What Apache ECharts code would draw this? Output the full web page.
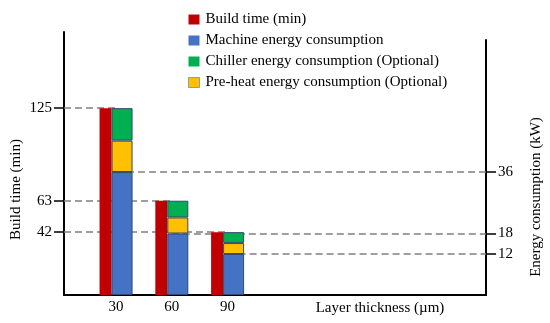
<!DOCTYPE html>
<html><head><meta charset="utf-8">
<script src="https://cdn.jsdelivr.net/npm/echarts@6.0.0/dist/echarts.min.js"></script>
<style>html,body{margin:0;padding:0;background:#fff}#c{width:550px;height:323px}</style>
</head><body><div id="c"></div>
<script>
// ---- data ----
const thickness = [30, 60, 90];              // layer thickness (µm)
const buildTime = [125, 63, 42];             // build time (min)
const machineEnergy = [36, 18, 12];          // kW
const preheatEnergy = [9.2, 4.7, 3.2];       // kW (optional)
const chillerEnergy = [9.5, 4.9, 3.2];       // kW (optional)
const xTickValues = [30, 60, 90];
const leftTickValues = [125, 63, 42];
const rightTickValues = [36, 18, 12];
const seriesNames = ['Build time (min)', 'Machine energy consumption',
  'Chiller energy consumption (Optional)', 'Pre-heat energy consumption (Optional)'];

// ---- layout / style ----
const X_MIN = 2, X_MAX = 229, LEFT_MAX = 176, RIGHT_MAX = 77;
const FONT = 'Liberation Serif';
const txt = {fontFamily: FONT, fontSize: 15, color: '#000'};
// value first, thickness second; encode maps them (so stacking happens on the value dimension)
const pairVX = (ys, xs) => ys.map((y, i) => [y, xs[i]]);
const enc = {x: 1, y: 0};
const dash = {color: '#808080', width: 1.5, type: [7, 4]};
const segBorder = {borderColor: '#34496b', borderWidth: 1};

const chart = echarts.init(document.getElementById('c'), null, {renderer: 'canvas'});
chart.setOption({
  animation: false,
  backgroundColor: '#fff',
  legend: {
    orient: 'vertical', left: 188, top: 12, padding: 0, itemWidth: 11, itemHeight: 10, itemGap: 6,
    icon: 'rect', selectedMode: false,
    textStyle: Object.assign({}, txt, {padding: [0, 0, 0, 1]}),
    itemStyle: {borderWidth: 0},
    data: [
      {name: seriesNames[0]},
      {name: seriesNames[1]},
      {name: seriesNames[2]},
      {name: seriesNames[3], itemStyle: {borderColor: '#8c9bb0', borderWidth: 1}}
    ]
  },
  grid: [
    {left: 64, right: 64, top: 32, bottom: 28, outerBoundsMode: 'none', containLabel: false},
    {left: 64, right: 64, top: 40, bottom: 28, outerBoundsMode: 'none', containLabel: false}
  ],
  xAxis: [
    {gridIndex: 0, type: 'value', min: X_MIN, max: X_MAX,
     axisLine: {show: true, onZero: false, lineStyle: {color: '#000', width: 2}},
     axisTick: {show: false}, splitLine: {show: false},
     axisLabel: Object.assign({customValues: xTickValues, margin: 5}, txt),
     name: 'Layer thickness (µm)', nameLocation: 'middle', nameGap: 6, nameMoveOverlap: false,
     nameTextStyle: Object.assign({padding: [0, 0, 0, 210]}, txt)},
    {gridIndex: 1, type: 'value', min: 0, max: 1, show: false}
  ],
  yAxis: [
    {gridIndex: 0, type: 'value', position: 'left', min: 0, max: LEFT_MAX,
     axisLine: {show: true, onZero: false, lineStyle: {color: '#000', width: 2}},
     axisTick: {show: true, length: 10, customValues: leftTickValues, lineStyle: {color: '#000', width: 1.5}},
     axisLabel: Object.assign({customValues: leftTickValues, margin: 12}, txt),
     splitLine: {show: false},
     name: 'Build time (min)', nameLocation: 'middle', nameGap: 40, nameMoveOverlap: false,
     nameTextStyle: Object.assign({padding: [0, 52, 0, 0]}, txt)},
    {gridIndex: 0, type: 'value', position: 'right', min: 0, max: RIGHT_MAX,
     axisLine: {show: false, onZero: false},
     axisTick: {show: true, length: 10, customValues: rightTickValues, lineStyle: {color: '#000', width: 1.5}},
     axisLabel: Object.assign({customValues: rightTickValues, margin: 12}, txt),
     splitLine: {show: false},
     name: 'Energy consumption (kW)', nameLocation: 'middle', nameGap: 43, nameMoveOverlap: false,
     nameTextStyle: Object.assign({padding: [0, 67, 0, 0]}, txt)},
    {gridIndex: 1, type: 'value', position: 'right', min: 0, max: 1,
     axisLine: {show: true, onZero: false, lineStyle: {color: '#000', width: 2}},
     axisTick: {show: false}, axisLabel: {show: false}, splitLine: {show: false}}
  ],
  series: [
    {name: seriesNames[0], type: 'bar', xAxisIndex: 0, yAxisIndex: 0, barWidth: 12, barGap: '0%',
     encode: enc, data: pairVX(buildTime, thickness), itemStyle: {color: '#C00000'}, emphasis: {disabled: true}},
    {name: seriesNames[1], type: 'bar', xAxisIndex: 0, yAxisIndex: 1, stack: 'energy', barWidth: 21, barGap: '0%',
     encode: enc, data: pairVX(machineEnergy, thickness), itemStyle: Object.assign({color: '#4472C4'}, segBorder), emphasis: {disabled: true}},
    {name: seriesNames[3], type: 'bar', xAxisIndex: 0, yAxisIndex: 1, stack: 'energy', barWidth: 21, barGap: '0%',
     encode: enc, data: pairVX(preheatEnergy, thickness), itemStyle: Object.assign({color: '#FFC000'}, segBorder), emphasis: {disabled: true}},
    {name: seriesNames[2], type: 'bar', xAxisIndex: 0, yAxisIndex: 1, stack: 'energy', barWidth: 21, barGap: '0%',
     encode: enc, data: pairVX(chillerEnergy, thickness), itemStyle: Object.assign({color: '#00B050'}, segBorder), emphasis: {disabled: true}},
    {name: 'guideLeft', type: 'line', xAxisIndex: 0, yAxisIndex: 0, data: [],
     markLine: {silent: true, symbol: 'none', z: 1, label: {show: false}, lineStyle: dash, emphasis: {disabled: true},
       data: buildTime.map((v, i) => [{coord: [X_MIN, v]}, {coord: [thickness[i], v]}])}},
    {name: 'guideRight', type: 'line', xAxisIndex: 0, yAxisIndex: 1, data: [],
     markLine: {silent: true, symbol: 'none', z: 1, label: {show: false}, lineStyle: dash, emphasis: {disabled: true},
       data: machineEnergy.map((v, i) => [{coord: [thickness[i], v]}, {coord: [X_MAX, v]}])}}
  ]
});
</script></body></html>
